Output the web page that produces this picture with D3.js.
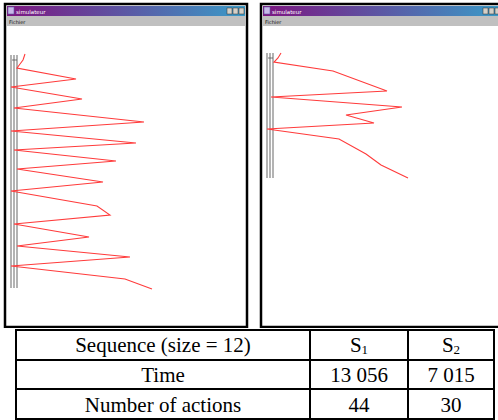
<!DOCTYPE html>
<html>
<head>
<meta charset="utf-8">
<script src="https://cdn.jsdelivr.net/npm/d3@7"></script>
<style>
  body { margin: 0; background: #fff; }
  svg { display: block; }
</style>
</head>
<body>
<div id="plot"></div>
<script>
const FRAME_WIDTH = 498;
const FRAME_HEIGHT = 420;

// robot paths, in simulator window coordinates (px from content top-left)
const s1X = [18, 16, 10, 69, 4, 75, 7, 137, 4, 129, 7, 109, 10, 96, 4, 90, 103, 7, 82, 10, 123, 4, 118, 145];
const s1Y = [28, 34, 42, 53, 61, 73, 82, 96, 105, 117, 124, 135, 143, 156, 165, 180, 189, 198, 211, 220, 231, 240, 253, 263];
const s2X = [18, 15, 11, 70, 124, 8, 139, 83, 111, 4, 76, 103, 118, 145];
const s2Y = [27, 32, 36, 45, 65, 71, 81, 89, 97, 103, 113, 128, 139, 152];

// the three grey guide rails, and where they stop
const railX = [4, 7, 10];
const railY1 = [29, 262];
const railY2 = [27, 152];

// results table
const header = ["Sequence (size = 12)", "S", "S"];
const headerSub = ["", "1", "2"];
const rowLabels = ["Time", "Number of actions"];
const timeVals = ["13 056", "7 015"];
const actionVals = ["44", "30"];

const svg = d3.select("#plot")
  .append("svg")
    .attr("width", FRAME_WIDTH)
    .attr("height", FRAME_HEIGHT);

const defs = svg.append("defs");
const grad = defs.append("linearGradient").attr("id", "titlebar");
grad.append("stop").attr("offset", "0%").attr("stop-color", "#7d1581");
grad.append("stop").attr("offset", "100%").attr("stop-color", "#3a9bc8");

function drawWindow(x, y, w, h, xs, ys, railY) {
  const g = svg.append("g");
  g.append("rect")
    .attr("x", x).attr("y", y).attr("width", w).attr("height", h)
    .attr("fill", "#fff").attr("stroke", "#000").attr("stroke-width", 2.5);
  // title bar
  g.append("rect")
    .attr("x", x + 2).attr("y", y + 2).attr("width", w - 4).attr("height", 10)
    .attr("fill", "url(#titlebar)");
  g.append("rect")
    .attr("x", x + 3).attr("y", y + 3).attr("width", 6).attr("height", 7)
    .attr("fill", "#c8b8e8").attr("stroke", "#5a5aa0").attr("stroke-width", 0.6);
  g.append("text")
    .attr("x", x + 11).attr("y", y + 9.5)
    .attr("font-family", "DejaVu Sans").attr("font-size", 5.5)
    .attr("fill", "#fff")
    .text("simulateur");
  [17, 11, 5].forEach((o, i) => {
    g.append("rect")
      .attr("x", x + w - 2 - o - 1).attr("y", y + 4).attr("width", 5).attr("height", 6)
      .attr("fill", "#d4d0c8").attr("stroke", "#333").attr("stroke-width", 0.5);
  });
  // menu bar
  g.append("rect")
    .attr("x", x + 2).attr("y", y + 12).attr("width", w - 4).attr("height", 10)
    .attr("fill", "#c0c0c0");
  g.append("text")
    .attr("x", x + 4).attr("y", y + 19.5)
    .attr("font-family", "DejaVu Sans").attr("font-size", 5)
    .attr("fill", "#111")
    .text("Fichier");

  const ox = x + 2, oy = y + 22;
  const X = d3.scaleLinear().domain([0, 100]).range([ox, ox + 100]);
  const Y = d3.scaleLinear().domain([0, 100]).range([oy, oy + 100]);

  railX.forEach((rx) => {
    g.append("line")
      .attr("x1", X(rx)).attr("x2", X(rx))
      .attr("y1", Y(railY[0])).attr("y2", Y(railY[1]))
      .attr("stroke", "#8a8a8a").attr("stroke-width", 1.3);
  });
  g.append("line")
    .attr("x1", X(railX[0]) + 1).attr("x2", X(railX[2]))
    .attr("y1", Y(railY[0] + 5)).attr("y2", Y(railY[0] + 5))
    .attr("stroke", "#555").attr("stroke-width", 0.8);

  const pts = xs.map((d, i) => [d, ys[i]]);
  g.append("path")
    .datum(pts)
    .attr("d", d3.line().x((d) => X(d[0])).y((d) => Y(d[1])))
    .attr("fill", "none")
    .attr("stroke", "#ff3b3b")
    .attr("stroke-width", 1.1);
}

drawWindow(5, 4, 242, 323, s1X, s1Y, railY1);
drawWindow(261, 4, 242, 323, s2X, s2Y, railY2);

// table
const colX = [16, 310, 408, 494];
const rowY = [330, 360, 389, 419];
const tbl = svg.append("g");
tbl.append("rect")
  .attr("x", 0).attr("y", 328).attr("width", FRAME_WIDTH).attr("height", 92)
  .attr("fill", "#fff");
rowY.forEach((y) => {
  tbl.append("line")
    .attr("x1", colX[0] - 1).attr("x2", colX[3] + 1)
    .attr("y1", y).attr("y2", y)
    .attr("stroke", "#000").attr("stroke-width", 2);
});
colX.forEach((x) => {
  tbl.append("line")
    .attr("x1", x).attr("x2", x)
    .attr("y1", rowY[0]).attr("y2", rowY[3])
    .attr("stroke", "#000").attr("stroke-width", 2);
});

const cells = [
  header.map((t, i) => ({t: t, sub: headerSub[i]})),
  [rowLabels[0]].concat(timeVals).map((t) => ({t: t, sub: ""})),
  [rowLabels[1]].concat(actionVals).map((t) => ({t: t, sub: ""}))
];
const baseY = [352, 382, 412];
cells.forEach((row, r) => {
  row.forEach((c, i) => {
    const txt = tbl.append("text")
      .attr("x", (colX[i] + colX[i + 1]) / 2)
      .attr("y", baseY[r])
      .attr("text-anchor", "middle")
      .attr("font-family", "Liberation Serif, Times New Roman, serif")
      .attr("font-size", 21)
      .attr("fill", "#000");
    txt.append("tspan").text(c.t);
    if (c.sub) {
      txt.append("tspan")
        .attr("font-size", 13)
        .attr("dy", 2)
        .text(c.sub);
    }
  });
});
</script>
</body>
</html>
